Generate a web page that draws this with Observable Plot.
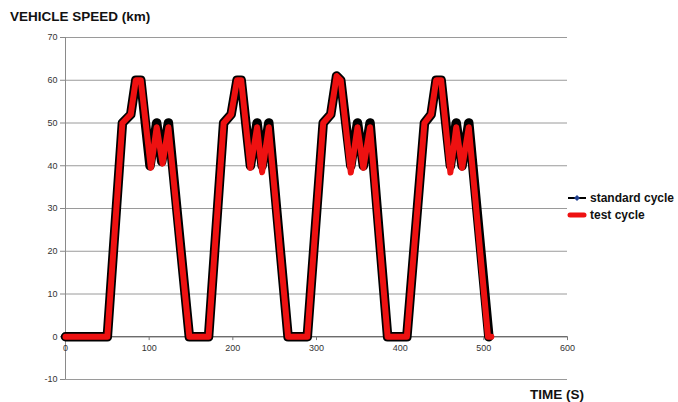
<!DOCTYPE html>
<html>
<head>
<meta charset="utf-8">
<script src="https://cdn.jsdelivr.net/npm/d3@7"></script>
<script src="https://cdn.jsdelivr.net/npm/@observablehq/plot@0.6"></script>
<style>
  html, body { margin: 0; padding: 0; background: #fff; }
  #wrap { position: relative; width: 678px; height: 402px; font-family: "Liberation Sans", Arial, sans-serif; }
  #title { position: absolute; left: 10px; top: 9px; font-weight: bold; font-size: 13.5px; color: #111; }
  #xtitle { position: absolute; left: 530px; top: 387px; font-weight: bold; font-size: 13.5px; color: #111; }
  .leg { position: absolute; left: 567px; font-weight: bold; font-size: 12px; color: #111; display: flex; align-items: center; }
  .leg svg { margin-right: 3px; }
</style>
</head>
<body>
<div id="wrap">
  <div id="chart"></div>
  <div id="title">VEHICLE SPEED (km)</div>
  <div id="xtitle">TIME (S)</div>
  <div class="leg" style="top:191px">
    <svg width="20" height="10"><line x1="1" y1="5" x2="19" y2="5" stroke="#000" stroke-width="2"/><path d="M10,2 L13,5 L10,8 L7,5 Z" fill="#1f3f8f"/></svg>standard cycle
  </div>
  <div class="leg" style="top:208px">
    <svg width="20" height="10"><line x1="3" y1="5" x2="17" y2="5" stroke="#ee1111" stroke-width="5" stroke-linecap="round"/></svg>test cycle
  </div>
</div>
<script>
// Data (time in s, speed in km/h)
const standardTime  = [0, 50, 68, 78, 84, 90, 101, 109, 115, 123, 148, 171, 189, 198, 205, 210, 221, 229, 235, 243, 266, 289, 308, 317, 324, 329, 341, 349, 356, 364, 385, 408, 429, 437, 443, 449, 460, 467, 474, 482, 506];
const standardSpeed = [0,  0, 50, 52, 60, 60,  40,  50,  41,  50,   0,   0,  50,  52,  60,  60,  40,  50,  40,  50,   0,   0,  50,  52,  61,  60,  40,  50,  40,  50,   0,   0,  50,  52,  60,  60,  40,  50,  40,  50,   0];
const testTime  = [0, 50, 68, 78, 84, 90, 102, 109, 116, 123, 148, 171, 189, 198, 205, 210, 221, 229, 235, 243, 266, 289, 308, 317, 324, 329, 341, 349, 356, 364, 385, 408, 429, 437, 443, 449, 460, 467, 474, 482, 505, 509];
const testSpeed = [0,  0, 50, 52, 60, 60, 39.5, 49, 40.5, 49,  0,   0,  50,  52,  60,  60,  39.5, 49, 38.5, 49,   0,   0,  50,  52,  61,  60, 38.4, 49, 39.5, 49,   0,   0,  50,  52,  60,  60, 38.4, 49, 39.5, 49, 0, 0];
const xTicks = [0, 100, 200, 300, 400, 500, 600];
const yTicks = [-10, 0, 10, 20, 30, 40, 50, 60, 70];

const standard = standardTime.map((t, i) => ({t, v: standardSpeed[i]}));
const test = testTime.map((t, i) => ({t, v: testSpeed[i]}));

const chart = Plot.plot({
  width: 678,
  height: 402,
  marginLeft: 65,
  marginRight: 111,
  marginTop: 37,
  marginBottom: 23,
  style: {fontFamily: "'Liberation Sans', Arial, sans-serif", background: "#fff"},
  x: {domain: [0, 600], axis: null},
  y: {domain: [-10, 70], axis: null},
  marks: [
    Plot.ruleY(yTicks, {stroke: "#9a9a9a", strokeWidth: 1, strokeOpacity: 1}),
    Plot.ruleX([0], {stroke: "#8a8a8a", strokeWidth: 1}),
    Plot.ruleY([0], {stroke: "#555", strokeWidth: 1}),
    Plot.ruleX(xTicks, {y1: 0, y2: -0.9, stroke: "#777"}),
    Plot.axisY({ticks: yTicks, tickSize: 5, tickPadding: 3, fontSize: 9, color: "#333", stroke: "#888", label: null, tickFormat: d => String(d)}),
    Plot.text(xTicks, {x: d => d, y: 0, dy: 11, text: d => String(d), fontSize: 9, fill: "#333"}),
    Plot.line(standard, {x: "t", y: "v", stroke: "#000", strokeWidth: 9.5, strokeLinejoin: "round", strokeLinecap: "round"}),
    Plot.line(test, {x: "t", y: "v", stroke: "#ee1111", strokeWidth: 6, strokeLinejoin: "round", strokeLinecap: "round"})
  ]
});
document.getElementById("chart").appendChild(chart);
</script>
</body>
</html>
